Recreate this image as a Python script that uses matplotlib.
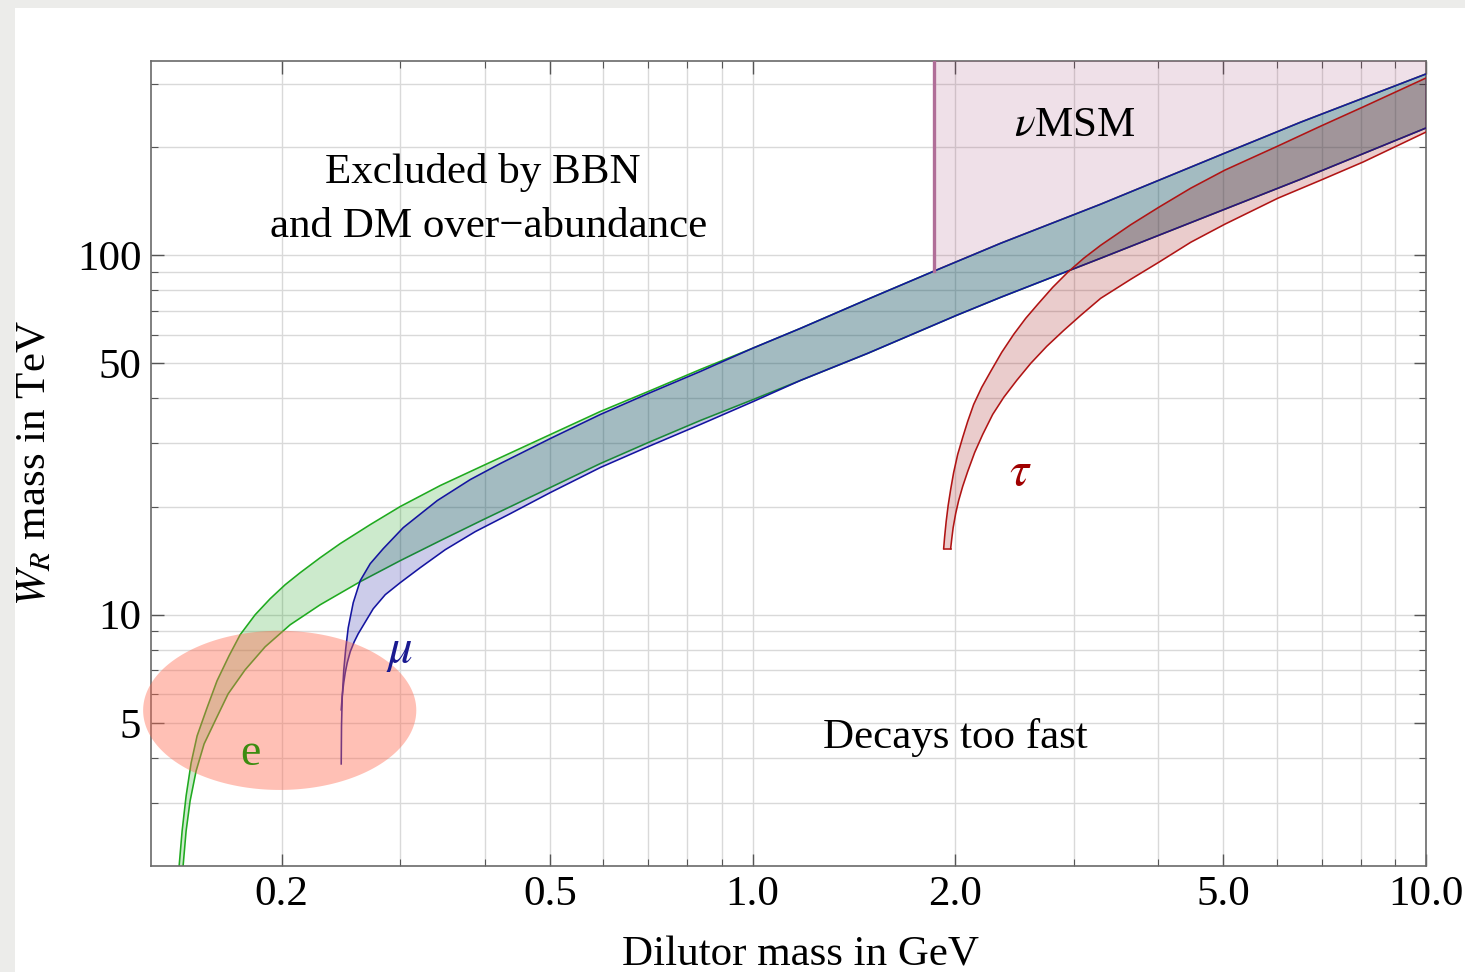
import numpy as np
import matplotlib
matplotlib.use("Agg")
import matplotlib.pyplot as plt
from matplotlib.patches import Rectangle
from matplotlib.ticker import FixedLocator, FixedFormatter, NullFormatter

# ---------------- data ----------------
# electron band (green)
e_upper_x = [0.14081, 0.14225, 0.14421, 0.14670, 0.14973, 0.15490, 0.16029, 0.16701, 0.17347, 0.18261,
             0.19222, 0.20234, 0.21300, 0.22809, 0.24424, 0.27064, 0.29990, 0.34388, 0.39839, 0.50101,
             0.59450, 0.70060, 0.83701, 1.00343, 1.1785, 1.4823, 1.8577, 2.3362, 3.2885, 5.0274,
             6.5209, 10.0]
e_upper_y = [2.0, 2.502, 3.132, 3.870, 4.602, 5.507, 6.549, 7.688, 8.796, 10.0,
             11.08, 12.12, 13.09, 14.41, 15.77, 17.81, 20.00, 22.88, 26.01, 31.72,
             36.77, 41.80, 48.13, 55.25, 62.62, 75.42, 90.26, 108.0, 138.7, 192.4,
             234.7, 319.4]
e_lower_x = [0.14273, 0.14421, 0.14619, 0.14923, 0.15337, 0.16029, 0.16650, 0.17647, 0.18896, 0.20584,
             0.22809, 0.26154, 0.29990, 0.34388, 0.39839, 0.50101, 0.59450, 0.70060, 0.83701, 1.00343,
             1.1785, 1.4823, 2.0100, 2.3362, 3.2885, 5.0274, 6.5209, 10.0]
e_lower_y = [2.0, 2.502, 3.033, 3.677, 4.372, 5.199, 6.025, 7.028, 8.144, 9.378,
             10.66, 12.36, 14.14, 16.07, 18.39, 22.59, 26.34, 30.14, 34.71, 39.72,
             44.86, 53.33, 68.07, 76.38, 98.09, 134.3, 162.8, 225.9]

# muon band (blue)
mu_upper_x = [0.24508, 0.24533, 0.24592, 0.24718, 0.24888, 0.25102, 0.25535, 0.26154, 0.27064, 0.28295,
              0.30299, 0.34037, 0.38105, 0.42224, 0.50101, 0.59450, 0.70060, 0.83701, 1.00343, 1.1785,
              1.4823, 1.8577, 2.3362, 3.2885, 5.0274, 6.5209, 10.0]
mu_upper_y = [3.846, 4.907, 5.873, 6.983, 8.041, 9.200, 10.80, 12.44, 13.87, 15.27,
              17.47, 20.78, 23.77, 26.34, 30.92, 36.07, 41.27, 47.52, 55.25, 62.62,
              75.42, 90.26, 108.0, 138.7, 192.4, 234.7, 319.4]
mu_lower_x = [0.24508, 0.24592, 0.24718, 0.24846, 0.25016, 0.25274, 0.25622, 0.25975, 0.26514, 0.27343,
              0.28489, 0.29990, 0.32114, 0.34981, 0.38762, 0.43694, 0.50101, 0.59450, 0.70060, 0.83701,
              1.00343, 1.1785, 1.4823, 2.0100, 2.3362, 3.2885, 5.0274, 6.5209, 10.0]
mu_lower_y = [5.437, 5.948, 6.465, 6.894, 7.350, 7.888, 8.410, 8.853, 9.439, 10.39,
              11.37, 12.28, 13.52, 15.17, 17.03, 19.11, 21.87, 25.68, 29.37, 33.83,
              39.21, 44.86, 53.33, 68.07, 76.38, 98.09, 134.3, 162.8, 225.9]

# tau band (red)
tau_upper_x = [1.9222, 1.9288, 1.9388, 1.9520, 1.9688, 1.9891, 2.0166, 2.0514, 2.0868, 2.1300,
               2.1891, 2.2576, 2.3442, 2.4424, 2.5448, 2.6515, 2.7911, 2.9380, 3.1033, 3.2885,
               3.6447, 4.0112, 4.4753, 5.0274, 6.0269, 6.9820, 8.0610, 10.0]
tau_upper_y = [15.27, 16.49, 18.16, 20.13, 22.30, 24.87, 27.91, 31.12, 34.49, 38.46,
               42.89, 47.52, 53.68, 60.25, 66.77, 73.03, 81.44, 89.68, 98.09, 106.6,
               121.6, 136.0, 153.7, 172.5, 201.3, 228.8, 258.4, 311.2]
tau_lower_x = [1.9688, 1.9756, 1.9857, 2.0028, 2.0234, 2.0514, 2.0868, 2.1373, 2.1966, 2.2731,
               2.3603, 2.4676, 2.5887, 2.7343, 2.8981, 3.0716, 3.2885, 3.6447, 4.0112, 4.4753,
               5.0274, 6.0269, 6.9820, 8.0610, 10.0]
tau_lower_y = [15.27, 16.18, 17.47, 19.11, 20.78, 22.74, 25.02, 28.27, 31.72, 36.07,
               40.23, 44.86, 50.03, 55.79, 61.79, 68.07, 75.90, 85.74, 95.61, 108.7,
               122.0, 144.1, 161.8, 181.6, 220.1]

# nuMSM boundary (GeV)
vmsm_x = 1.8577

# shaded ellipse (centre in GeV / TeV, half-widths in decades)
ell_center = (0.1986, 5.42)
ell_halfwidth_dec = (0.2028, 0.2214)

x_major = [0.2, 0.5, 1.0, 2.0, 5.0, 10.0]
x_major_labels = ["0.2", "0.5", "1.0", "2.0", "5.0", "10.0"]
x_minor = [0.3, 0.4, 0.6, 0.7, 0.8, 0.9, 3, 4, 6, 7, 8, 9]
y_major = [5, 10, 50, 100]
y_major_labels = ["5", "10", "50", "100"]
y_minor = [3, 4, 6, 7, 8, 9, 20, 30, 40, 60, 70, 80, 90, 200, 300]

# ---------------- style ----------------
plt.rcParams['font.family'] = ['Liberation Serif', 'DejaVu Serif']
plt.rcParams['mathtext.fontset'] = 'stix'

W, H = 1465, 972
fig = plt.figure(figsize=(W / 100, H / 100), dpi=100)
fig.patch.set_facecolor('#ececea')
fig.add_artist(Rectangle((15 / W, 0), 1, 1 - 8 / H, transform=fig.transFigure,
                         facecolor='white', edgecolor='none', zorder=-5))

ax = fig.add_axes([151 / W, 106 / H, 1275 / W, 805 / H])
ax.set_xscale('log')
ax.set_yscale('log')
ax.set_xlim(0.1279, 10.0)
ax.set_ylim(2.0, 347)

green_line = '#1faa1f'
blue_line = '#1414a0'
red_line = '#b01414'
LW = 1.15


def band(xu, yu, xl, yl, fillc, linec, z, close_bottom=False):
    px = list(xu) + list(xl)[::-1]
    py = list(yu) + list(yl)[::-1]
    ax.fill(px, py, facecolor=fillc, alpha=0.2, edgecolor='none', zorder=z)
    ax.plot(xu, yu, color=linec, lw=LW, zorder=z + 0.1)
    ax.plot(xl, yl, color=linec, lw=LW, zorder=z + 0.1)
    if close_bottom:
        ax.plot([xu[0], xl[0]], [yu[0], yl[0]], color=linec, lw=LW, zorder=z + 0.1)


band(e_upper_x, e_upper_y, e_lower_x, e_lower_y, '#009900', green_line, 2)
band(mu_upper_x, mu_upper_y, mu_lower_x, mu_lower_y, '#000099', blue_line, 3)
band(tau_upper_x, tau_upper_y, tau_lower_x, tau_lower_y, '#990000', red_line, 4, close_bottom=True)

# nuMSM region above the upper muon curve
mx = np.array(mu_upper_x)
my = np.array(mu_upper_y)
sel = mx >= vmsm_x
reg_x = list(mx[sel]) + [10.0, vmsm_x]
reg_y = list(my[sel]) + [1000.0, 1000.0]
ax.fill(reg_x, reg_y, facecolor='#993366', alpha=0.15, edgecolor='none', zorder=5)
ax.plot([vmsm_x, vmsm_x], [my[sel][0], 1000.0], color='#b06e98', lw=2.4, zorder=5.1)

# ellipse drawn in log space
t = np.linspace(0, 2 * np.pi, 300)
ex = 10 ** (np.log10(ell_center[0]) + ell_halfwidth_dec[0] * np.cos(t))
ey = 10 ** (np.log10(ell_center[1]) + ell_halfwidth_dec[1] * np.sin(t))
ax.fill(ex, ey, facecolor='#ff6a50', alpha=0.42, edgecolor='none', zorder=6, clip_on=False)

# grid & ticks
ax.xaxis.set_major_locator(FixedLocator(x_major))
ax.xaxis.set_major_formatter(FixedFormatter(x_major_labels))
ax.xaxis.set_minor_locator(FixedLocator(x_minor))
ax.xaxis.set_minor_formatter(NullFormatter())
ax.yaxis.set_major_locator(FixedLocator(y_major))
ax.yaxis.set_major_formatter(FixedFormatter(y_major_labels))
ax.yaxis.set_minor_locator(FixedLocator(y_minor))
ax.yaxis.set_minor_formatter(NullFormatter())
ax.set_axisbelow(True)
ax.grid(True, which='both', color='#d9d9d9', lw=1.0)
ax.tick_params(which='both', direction='in', top=True, right=True, color='#555555')
ax.tick_params(which='major', length=9, width=1.0, labelsize=31, pad=7)
ax.tick_params(which='minor', length=5, width=0.8)
for s in ax.spines.values():
    s.set_color('#6a6a6a')
    s.set_linewidth(1.2)

# annotations
fs = 31
ax.text(0.2604, 0.862, 'Excluded by BBN', transform=ax.transAxes, ha='center', va='center', fontsize=fs, zorder=10)
ax.text(0.2651, 0.794, 'and DM over\u2212abundance', transform=ax.transAxes, ha='center', va='center', fontsize=fs, zorder=10)
ax.text(0.7247, 0.920, r'$\nu$MSM', transform=ax.transAxes, ha='center', va='center', fontsize=fs, zorder=10)
ax.text(0.6306, 0.160, 'Decays too fast', transform=ax.transAxes, ha='center', va='center', fontsize=fs, zorder=10)
ax.text(0.0776, 0.139, 'e', transform=ax.transAxes, ha='center', va='center', fontsize=33, color='#3c8c10', zorder=10)
ax.text(0.1953, 0.266, r'$\mu$', transform=ax.transAxes, ha='center', va='center', fontsize=35, color='#1a1a90', zorder=10)
ax.text(0.6816, 0.488, r'$\tau$', transform=ax.transAxes, ha='center', va='center', fontsize=35, color='#a00000', zorder=10)

fig.text(801 / W, 1 - 955 / H, 'Dilutor mass in GeV', ha='center', va='center', fontsize=fs)
fig.text(35 / W, 1 - 463 / H, r'$W_R$ mass in TeV', ha='center', va='center', fontsize=fs, rotation=90)

fig.savefig('out.png', dpi=100, facecolor=fig.get_facecolor())
